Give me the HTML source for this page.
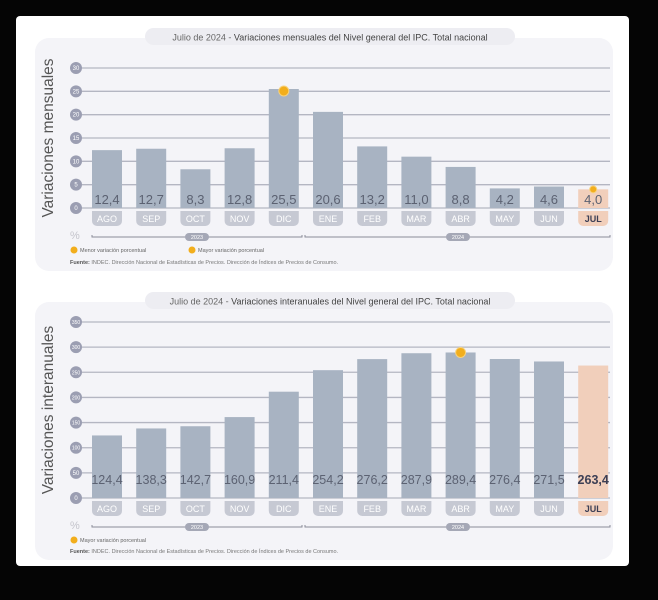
<!DOCTYPE html>
<html><head><meta charset="utf-8">
<style>
html,body{margin:0;padding:0;background:#000;width:658px;height:600px;overflow:hidden}
svg{display:block;font-family:"Liberation Sans",sans-serif}
</style></head>
<body>
<svg id="s" width="658" height="600" viewBox="0 0 658 600">
<rect x="0" y="0" width="658" height="600" fill="#050505"/>
<rect x="16" y="16" width="613" height="550" rx="4" fill="#ffffff"/>
</svg>
<script>
const months=["AGO","SEP","OCT","NOV","DIC","ENE","FEB","MAR","ABR","MAY","JUN","JUL"];
const monthly=[12.4,12.7,8.3,12.8,25.5,20.6,13.2,11.0,8.8,4.2,4.6,4.0];
const monthlyTicks=[0,5,10,15,20,25,30];
const yearly=[124.4,138.3,142.7,160.9,211.4,254.2,276.2,287.9,289.4,276.4,271.5,263.4];
const yearlyTicks=[0,50,100,150,200,250,300,350];
const years=["2023","2024"];
const NS="http://www.w3.org/2000/svg";
const svg=document.getElementById('s');
function el(t,a,p){const e=document.createElementNS(NS,t);for(const k in a)e.setAttribute(k,a[k]);(p||svg).appendChild(e);return e;}
function txt(s,a,p){const e=el('text',a,p);e.textContent=s;return e;}
function fmt(v){return v.toFixed(1).replace('.',',');}

function chart(cfg){
  const g=el('g',{});
  
  
  const bg=el('rect',{x:35,y:cfg.panelTop,width:578,height:cfg.panelH,rx:14,fill:'#f4f4f8'},g);
  
  const tp=el('rect',{x:145,y:cfg.panelTop-10,width:370,height:17,rx:8.5,fill:'#ededf2'},g);
  
  const tt=el('text',{x:330,y:cfg.panelTop+2.5,'text-anchor':'middle','font-size':9,fill:'#666'},g);
  
  tt.innerHTML='Julio de 2024 - <tspan fill="#444">'+cfg.title+'</tspan>';
  const yl=txt(cfg.ylabel,{transform:`translate(53,${(cfg.y0+cfg.yTop)/2}) rotate(-90)`,'text-anchor':'middle','font-size':15.5,fill:'#555'},g);
  
  const max=cfg.ticks[cfg.ticks.length-1];
  const Y=v=>cfg.y0-(v/max)*(cfg.y0-cfg.yTop);
  const X=i=>92+i*44.2;
  cfg.ticks.forEach(t=>{
    const ln=el('line',{x1:82,x2:610,y1:Y(t),y2:Y(t),stroke:'#b4b6c2','stroke-width':1.3},g);
    
    const c=el('circle',{cx:76,cy:Y(t),r:6,fill:'#9b9eb2'},g);
    
    const tl=txt(String(t),{x:76,y:Y(t)+2,'text-anchor':'middle','font-size':t>=100?5:6,fill:'#fff'},g);
    
  });
  cfg.values.forEach((v,i)=>{
    const last=i===cfg.values.length-1;
    const b=el('rect',{x:X(i),y:Y(v),width:30,height:cfg.y0-Y(v),fill:last?'#f1cfbb':'#a8b3c2'},g);
    
    const vl=txt(fmt(v),{x:X(i)+15,y:cfg.y0-cfg.labOff,'text-anchor':'middle','font-size':cfg.valFs,fill:last?(cfg.boldLast?'#3c3f55':'#5c6272'):'#5c6272','font-weight':last&&cfg.boldLast?'bold':'normal'},g);
    
    const p=el('path',{d:`M${X(i)} ${cfg.y0+3}h30v10a5 5 0 0 1-5 5h-20a5 5 0 0 1-5-5z`,fill:last?'#f1cfbb':'#c6c9d3'},g);
    
    const cl=txt(months[i],{x:X(i)+15,y:cfg.y0+14,'text-anchor':'middle','font-size':9,fill:last?'#3c3f55':'#fff','font-weight':last?'bold':'normal'},g);
    
  });
  cfg.markers.forEach(i=>{
    const m=el('circle',{cx:X(i)+15,cy:Y(cfg.values[i])-(i===4&&cfg.name==='monthly-chart'?-2:0),r:cfg.markerR[i]||4,fill:'#f2ae1c',stroke:'#f7d27e','stroke-width':1},g);
    
  });
  const pc=txt('%',{x:70,y:cfg.y0+31,'font-size':11,fill:'#c4c4cc'},g);
  
  const by=cfg.y0+29;
  [[92,302],[305,610]].forEach((r,k)=>{
    const l=el('path',{d:`M${r[0]} ${by-2}v2H${r[1]}v-2`,stroke:'#8a8c99','stroke-width':1,fill:'none'},g);
    
    const cx=k?458:197;
    const yp=el('rect',{x:cx-12,y:by-4,width:24,height:8,rx:4,fill:'#a5a8b6'},g);
    
    const yt=txt(years[k],{x:cx,y:by+2,'text-anchor':'middle','font-size':5.5,fill:'#fff'},g);
    
  });
  const ly=cfg.y0+42;
  cfg.legend.forEach((s,k)=>{
    const lx=k?192:74;
    const lc=el('circle',{cx:lx,cy:ly,r:3.5,fill:'#f2ae1c'},g);
    
    const lt=txt(s,{x:lx+6,y:ly+2,'font-size':5.5,fill:'#666'},g);
    
  });
  const src=el('text',{x:70,y:cfg.y0+cfg.srcOff,'font-size':5.5,fill:'#777'},g);
  
  src.innerHTML='<tspan font-weight="bold" fill="#555">Fuente:</tspan> INDEC. Dirección Nacional de Estadísticas de Precios. Dirección de Índices de Precios de Consumo.';
}
chart({name:'monthly-chart',panelTop:38,panelH:233,title:'Variaciones mensuales del Nivel general del IPC. Total nacional',ylabel:'Variaciones mensuales',values:monthly,ticks:monthlyTicks,y0:208,yTop:68,labOff:4,valFs:13,boldLast:false,markers:[4,11],markerR:{4:5,11:3.5},legend:['Menor variación porcentual','Mayor variación porcentual'],srcOff:56});
chart({name:'yearly-chart',panelTop:302,panelH:258,title:'Variaciones interanuales del Nivel general del IPC. Total nacional',ylabel:'Variaciones interanuales',values:yearly,ticks:yearlyTicks,y0:498,yTop:322,labOff:14,valFs:12.5,boldLast:true,markers:[8],markerR:{8:5},legend:['Mayor variación porcentual'],srcOff:55});
</script>
</body></html>
